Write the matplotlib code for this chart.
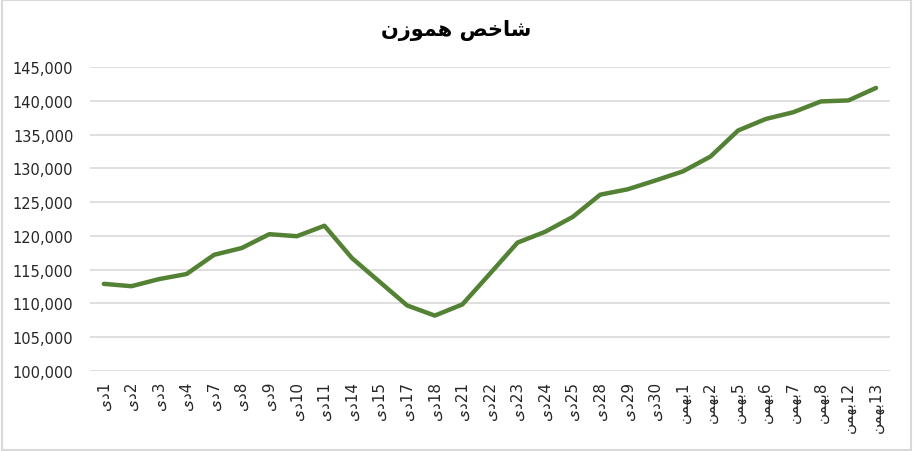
import matplotlib
matplotlib.use("Agg")
import matplotlib.pyplot as plt
from matplotlib.patches import Rectangle
from matplotlib.ticker import FuncFormatter

# month names written in shaped, visual-order presentation forms (matplotlib has no bidi)
DEY = "\uFBFC\uFEA9"                     # دی
BAHMAN = "\uFEE6\uFEE4\uFEEC\uFE91"      # بهمن
TITLE = "\uFEE5\uFEAF\uFEEE\uFEE4\uFEEB \uFEBA\uFEA7\uFE8E\uFEB7"  # شاخص هموزن

dey_days = [1, 2, 3, 4, 7, 8, 9, 10, 11, 14, 15, 17, 18, 21, 22, 23, 24, 25, 28, 29, 30]
bahman_days = [1, 2, 5, 6, 7, 8, 12, 13]
labels = [DEY + str(d) for d in dey_days] + [BAHMAN + str(d) for d in bahman_days]

index_values = [112900, 112550, 113600, 114350, 117200, 118200, 120250, 119950, 121500,
                116700, 113200, 109700, 108200, 109850, 114400, 119000, 120600, 122800,
                126100, 126900, 128200, 129550, 131750, 135600, 137300, 138300, 139900,
                140050, 141900]

fig = plt.figure(figsize=(9.13, 4.52), dpi=100)
ax = fig.add_axes([0.0986, 0.177, 0.876, 0.6726])

x = range(len(labels))
ax.plot(x, index_values, color="#548235", linewidth=3.2, solid_capstyle="round", zorder=3)

ax.set_ylim(100000, 145000)
ax.set_yticks(range(100000, 145001, 5000))
ax.yaxis.set_major_formatter(FuncFormatter(lambda v, p: f"{int(v):,}"))
ax.set_xlim(-0.5, len(labels) - 0.5)
ax.set_xticks(list(x))
ax.set_xticklabels(labels, rotation=90, fontsize=11)
ax.tick_params(axis="y", length=0, pad=12, labelsize=10.5, labelcolor="#262626")
ax.tick_params(axis="x", length=0, pad=7, labelcolor="#262626")
ax.grid(axis="y", color="#d9d9d9", linewidth=1.2)
for s in ax.spines.values():
    s.set_visible(False)

fig.text(0.5, 0.933, TITLE, ha="center", va="center", fontsize=15, fontweight="bold")

fig.patches.append(Rectangle((0.002, 0.003), 0.996, 0.994, transform=fig.transFigure,
                             fill=False, edgecolor="#d9d9d9", linewidth=1.5))

fig.savefig("out.png", dpi=100)
